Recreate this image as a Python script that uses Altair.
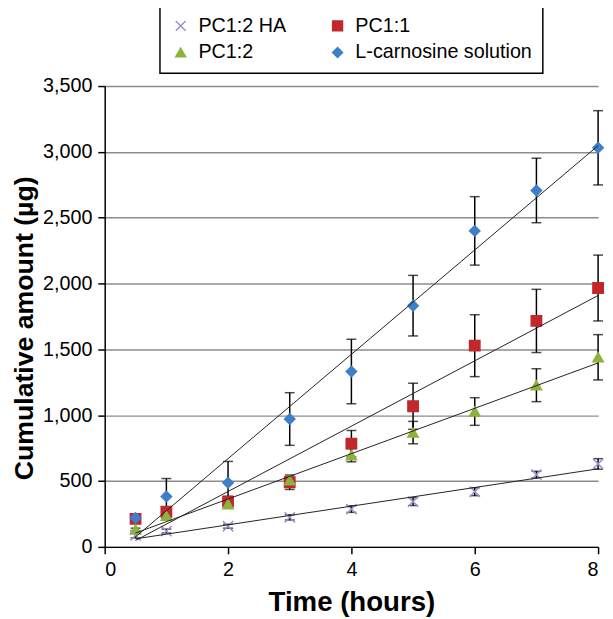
import altair as alt
import pandas as pd

# ---- data ----
hours = [0.5, 1, 2, 3, 4, 5, 6, 7, 8]
series_names = ["PC1:2 HA", "PC1:1", "PC1:2", "L-carnosine solution"]

ha_mean = [88, 120, 157, 224, 287, 344, 419, 549, 630]
ha_err = [20, 15, 15, 20, 25, 30, 30, 25, 40]

pc11_mean = [212, 267, 344, 491, 784, 1068, 1528, 1716, 1966]
pc11_err = [15, 30, 40, 55, 100, 175, 235, 240, 250]

pc12_mean = [132, 237, 324, 505, 696, 868, 1028, 1228, 1440]
pc12_err = [10, 15, 20, 25, 50, 85, 105, 125, 172]

lcar_mean = [220, 382, 487, 971, 1332, 1832, 2400, 2707, 3031]
lcar_err = [20, 137, 162, 200, 245, 230, 260, 245, 282]

series_colors = ["#9f8fcb", "#c0282d", "#8cb33c", "#3d7fc8"]
cross_path = "M-1,-1L1,1M-1,1L1,-1"
series_shapes = [cross_path, "square", "triangle-up", "diamond"]

x_ticks = [0, 2, 4, 6, 8]
y_ticks = [0, 500, 1000, 1500, 2000, 2500, 3000, 3500]

rows = []
for name, means, errs in zip(series_names,
                             [ha_mean, pc11_mean, pc12_mean, lcar_mean],
                             [ha_err, pc11_err, pc12_err, lcar_err]):
    for h, m, e in zip(hours, means, errs):
        rows.append({"series": name, "hours": h, "mean": m,
                     "lo": m - e, "hi": m + e})
df = pd.DataFrame(rows)

FONT = "Liberation Sans"

color_scale = alt.Scale(domain=series_names, range=series_colors)
shape_scale = alt.Scale(domain=series_names, range=series_shapes)

legend = alt.Legend(
    title=None, orient="none", legendX=56, legendY=-82, columns=2,
    direction="horizontal", labelLimit=400,
    labelFontSize=20, labelFont=FONT, labelColor="black",
    symbolSize=100, symbolStrokeWidth=1.5, labelOffset=8,
    padding=11, rowPadding=7, columnPadding=42,
    strokeColor="black", fillColor="white",
)

x_enc = alt.X("hours:Q", scale=alt.Scale(domain=[0, 8], nice=False),
              axis=alt.Axis(values=x_ticks, format="d", title="Time (hours)",
                            grid=False,
                            titleBaseline="alphabetic", titleY=64,
                            titleFontSize=28, labelPadding=6))
y_axis = alt.Axis(values=y_ticks, format=",.0f", title="Cumulative amount (µg)",
                  grid=True, gridColor="#8c8c8c", gridWidth=1.5,
                  titleAngle=270, titleBaseline="alphabetic",
                  titleX=-73, titleY=245, titleFontSize=27, labelPadding=6)
y_scale = alt.Scale(domain=[0, 3500], nice=False)

base = alt.Chart(df)

rules = base.mark_rule(color="black", strokeWidth=1.5).encode(
    x=x_enc,
    y=alt.Y("lo:Q", scale=y_scale, axis=y_axis),
    y2="hi:Q",
)
caps_hi = base.mark_tick(color="black", thickness=1.5, size=10,
                         orient="horizontal").encode(
    x="hours:Q", y="hi:Q")
caps_lo = base.mark_tick(color="black", thickness=1.5, size=10,
                         orient="horizontal").encode(
    x="hours:Q", y="lo:Q")

points = base.mark_point(filled=True, size=110, strokeWidth=1.5,
                         opacity=1).encode(
    x="hours:Q",
    y="mean:Q",
    fill=alt.Fill("series:N", scale=color_scale, legend=legend),
    stroke=alt.Stroke("series:N", scale=color_scale, legend=legend),
    shape=alt.Shape("series:N", scale=shape_scale, legend=legend),
)

trend = base.transform_regression(
    "hours", "mean", groupby=["series"], extent=[0.5, 8]
).mark_line(color="#222222", strokeWidth=1).encode(
    x="hours:Q", y="mean:Q", detail="series:N")

chart = alt.layer(rules, caps_hi, caps_lo, points, trend).properties(
    width=500, height=467,
    autosize=alt.AutoSizeParams(type="none"),
    padding={"left": 98, "top": 75, "right": 7, "bottom": 69},
).configure(font=FONT).configure_view(stroke=None).configure_axis(
    labelFont=FONT, labelFontSize=20, labelColor="black",
    titleFont=FONT, titleFontWeight="bold", titleColor="black",
    domainColor="black", domainWidth=1.5, tickColor="black", tickWidth=1.5,
    tickSize=7,
).configure_legend(strokeWidth=1.5)

chart.save("out.html", embed_options={"renderer": "svg", "actions": False})
